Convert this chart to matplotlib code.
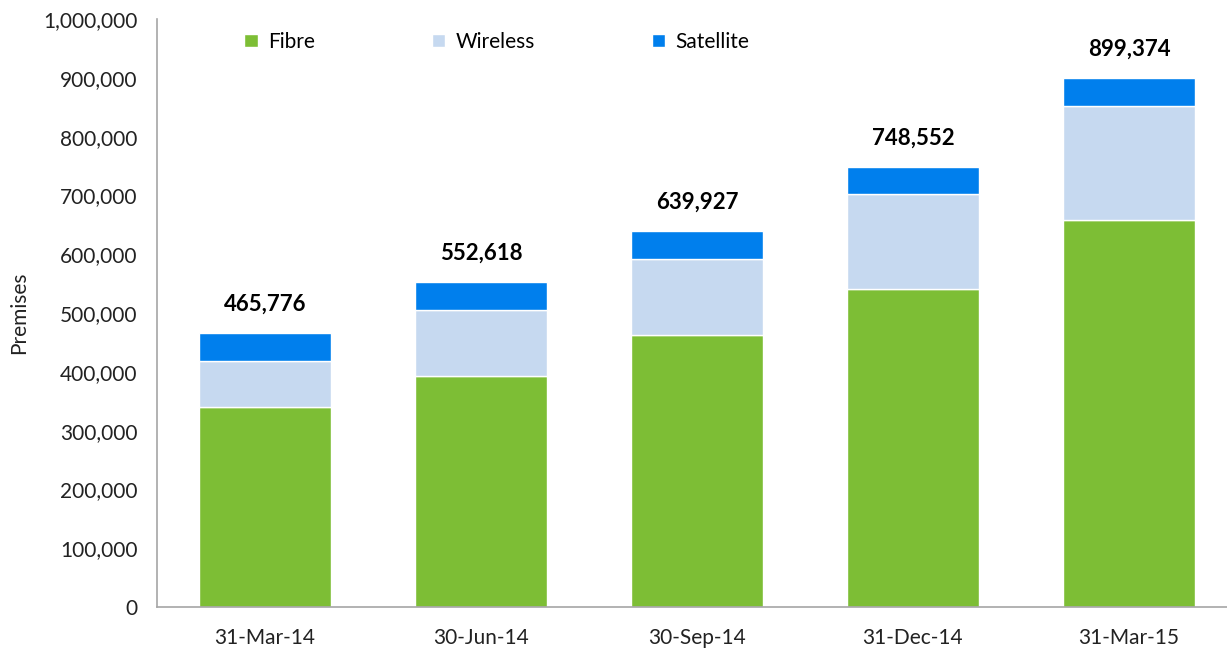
import numpy as np
import matplotlib.pyplot as plt
from matplotlib.ticker import FuncFormatter

plt.rcParams['font.family'] = ['Lato', 'DejaVu Sans']

quarters = ['31-Mar-14', '30-Jun-14', '30-Sep-14', '31-Dec-14', '31-Mar-15']
fibre = [340600, 392900, 462100, 541300, 657700]
wireless = [77800, 112200, 129700, 161100, 194300]
totals = [465776, 552618, 639927, 748552, 899374]
satellite = [t - f - w for t, f, w in zip(totals, fibre, wireless)]

col_fibre = '#7DBE35'
col_wireless = '#C6D9F0'
col_sat = '#007FED'

fig = plt.figure(figsize=(12.27, 6.53), dpi=100)
ax = fig.add_axes([157 / 1227, 46 / 653, 1070 / 1227, 588 / 653])

x = np.arange(len(quarters))
w = 0.615
ax.bar(x, fibre, w, color=col_fibre, edgecolor='white', linewidth=1, label='Fibre')
ax.bar(x, wireless, w, bottom=fibre, color=col_wireless, edgecolor='white', linewidth=1, label='Wireless')
bot2 = [f + v for f, v in zip(fibre, wireless)]
ax.bar(x, satellite, w, bottom=bot2, color=col_sat, edgecolor='white', linewidth=1, label='Satellite')

for i, t in enumerate(totals):
    ax.annotate(f'{t:,}', (x[i], t), xytext=(0, 13), textcoords='offset points',
                ha='center', va='bottom', fontsize=16, fontweight='bold', color='#000000')

ax.set_xlim(-0.5, 4.454)
ax.set_ylim(0, 1000000)
ax.set_yticks(np.arange(0, 1000001, 100000))
ax.yaxis.set_major_formatter(FuncFormatter(lambda v, p: f'{int(v):,}'))
ax.set_xticks(x)
ax.set_xticklabels(quarters)
ax.tick_params(axis='both', length=0, labelsize=15, colors='#222222')
ax.tick_params(axis='x', pad=15)
ax.tick_params(axis='y', pad=14)
ax.set_ylabel('Premises', fontsize=15, color='#222222', labelpad=10)

for s in ['top', 'right']:
    ax.spines[s].set_visible(False)
for s in ['left', 'bottom']:
    ax.spines[s].set_color('#A6A6A6')
    ax.spines[s].set_linewidth(1.2)

fig.legend(loc='center', bbox_to_anchor=(0.405, 0.936), ncol=3, frameon=False,
           fontsize=15, handlelength=0.65, handleheight=0.65, handletextpad=0.5,
           columnspacing=5.6)

fig.savefig('out.png', dpi=100)
